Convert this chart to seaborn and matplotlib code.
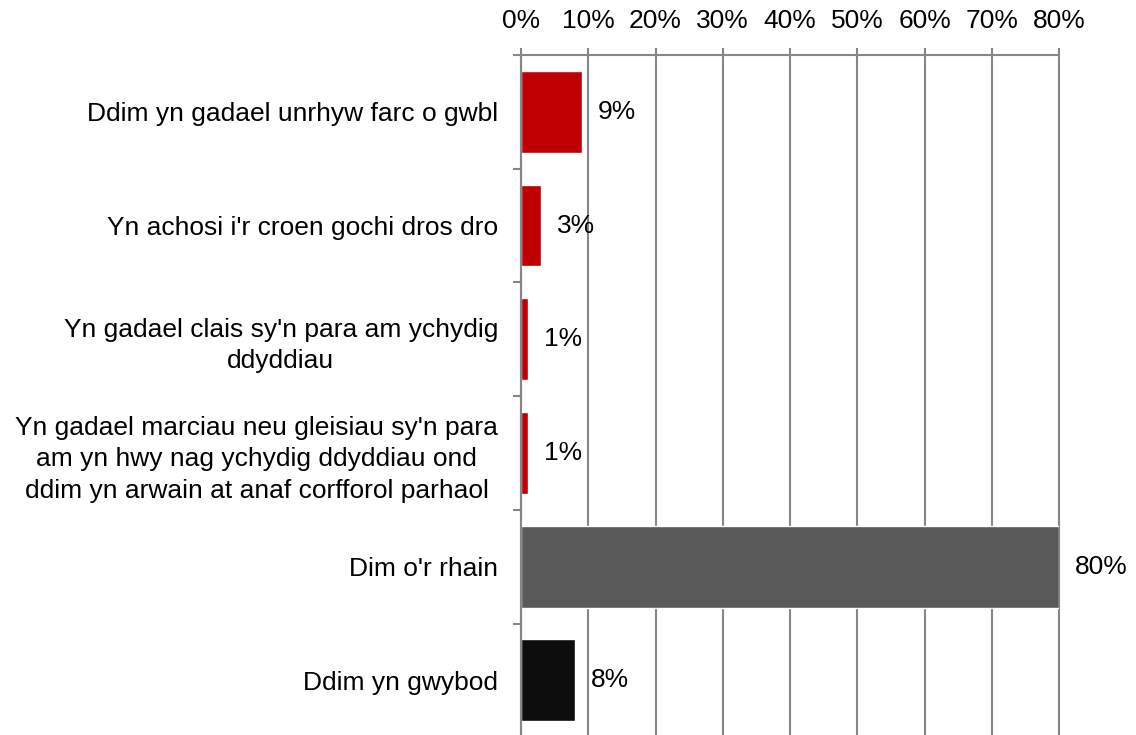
import pandas as pd
import matplotlib
matplotlib.use("Agg")
import matplotlib.pyplot as plt
import seaborn as sns
from matplotlib.ticker import PercentFormatter, FixedLocator

# data
categories = [
    "Ddim yn gadael unrhyw farc o gwbl",
    "Yn achosi i'r croen gochi dros dro",
    "Yn gadael clais sy'n para am ychydig\nddyddiau",
    "Yn gadael marciau neu gleisiau sy'n para\nam yn hwy nag ychydig ddyddiau ond\nddim yn arwain at anaf corfforol parhaol",
    "Dim o'r rhain",
    "Ddim yn gwybod",
]
values = [9, 3, 1, 1, 80, 8]
bar_colors = ["#C00000", "#C00000", "#C00000", "#C00000", "#595959", "#0D0D0D"]
x_ticks = [0, 10, 20, 30, 40, 50, 60, 70, 80]

df = pd.DataFrame({"category": categories, "value": values})

sns.set_style("white")
plt.rcParams["font.family"] = ["Liberation Sans", "DejaVu Sans"]
grey = "#868686"
fs = 19

fig = plt.figure(figsize=(11.36, 7.35), dpi=100)
ax = fig.add_axes([521 / 1136, -0.003, 538 / 1136, 1 - 55 / 735 + 0.003])

sns.barplot(data=df, y="category", x="value", hue="category",
            palette=bar_colors, legend=False, width=0.72, saturation=1,
            orient="h", ax=ax)

ax.set_xlim(0, 80)
ax.set_ylim(5.5, -0.5)
ax.set_xlabel("")
ax.set_ylabel("")

# percent axis on top
ax.xaxis.tick_top()
ax.set_xticks(x_ticks)
ax.xaxis.set_major_formatter(PercentFormatter(decimals=0))
ax.tick_params(axis="x", top=True, bottom=False, length=5, width=1.5,
               color=grey, labelsize=fs, labelcolor="black", pad=10.5,
               direction="out")
ax.grid(axis="x", color=grey, linewidth=1.5)
ax.grid(axis="y", visible=False)
ax.set_axisbelow(True)
for gl in ax.get_xgridlines():
    gl.set_clip_on(False)

# category labels, ticks between categories
ax.yaxis.set_minor_locator(FixedLocator([i - 0.5 for i in range(len(categories) + 1)]))
ax.tick_params(axis="y", which="major", length=0, pad=16.5, labelsize=fs,
               labelcolor="black")
ax.tick_params(axis="y", which="minor", left=True, length=6, width=1.5, color=grey)
for lab in ax.get_yticklabels():
    lab.set_multialignment("center")
    lab.set_linespacing(1.4)

for side in ["right", "bottom"]:
    ax.spines[side].set_visible(False)
for side in ["top", "left"]:
    ax.spines[side].set_color(grey)
    ax.spines[side].set_linewidth(1.5)

# value labels
for i, v in enumerate(values):
    ax.annotate(f"{v}%", xy=(v, i), xytext=(11.5, 0), textcoords="offset points",
                va="center", ha="left", fontsize=fs, color="black",
                annotation_clip=False)

fig.savefig("out.png", dpi=100)
